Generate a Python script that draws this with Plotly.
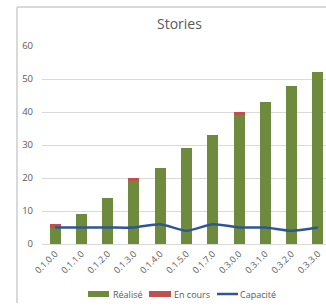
import plotly.graph_objects as go

categories = ["0.1.0.0", "0.1.1.0", "0.1.2.0", "0.1.3.0", "0.1.4.0", "0.1.5.0",
              "0.1.7.0", "0.3.0.0", "0.3.1.0", "0.3.2.0", "0.3.3.0"]
realise = [5, 9, 14, 19, 23, 29, 33, 39, 43, 48, 52]
en_cours = [1, 0, 0, 1, 0, 0, 0, 1, 0, 0, 0]
capacite = [5, 5, 5, 5, 6, 4, 6, 5, 5, 4, 5]
y_ticks = [0, 10, 20, 30, 40, 50, 60]

GREEN = "#6E8B3D"
RED = "#C0504D"
BLUE = "#2F5597"
TXT = "#595959"
GRID = "#D9D9D9"
FONT = "Open Sans"

W, H = 326, 307
ML, MR, MT, MB = 42, 0, 46, 63
PW = W - ML - MR
PH = H - MT - MB

def px_x(x):
    return (x - ML) / PW

def px_y(y):
    return (H - MB - y) / PH

fig = go.Figure()
fig.add_trace(go.Bar(x=categories, y=realise, name="Réalisé",
                     marker=dict(color=GREEN, line=dict(width=0)), width=0.42))
fig.add_trace(go.Bar(x=categories, y=en_cours, name="En cours",
                     marker=dict(color=RED, line=dict(width=0)), width=0.42))
fig.add_trace(go.Scatter(x=categories, y=capacite, name="Capacité", mode="lines",
                         line=dict(color=BLUE, width=2.5, shape="spline", smoothing=0.6)))

fig.update_layout(
    width=W, height=H,
    margin=dict(l=ML, r=MR, t=MT, b=MB, pad=0, autoexpand=False),
    barmode="stack",
    showlegend=False,
    paper_bgcolor="white",
    plot_bgcolor="white",
    font=dict(family=FONT, color=TXT, size=9),
    xaxis=dict(
        type="category",
        range=[-0.5, 10.31],
        tickangle=-45,
        tickfont=dict(size=9, color=TXT),
        showgrid=False,
        showline=True, linecolor=GRID, linewidth=1,
        ticks="", fixedrange=True, automargin=False,
    ),
    yaxis=dict(
        range=[0, 60],
        tickvals=y_ticks,
        tickfont=dict(size=9.5, color=TXT),
        showgrid=True, gridcolor=GRID, gridwidth=1,
        zeroline=False, showline=False, ticks="",
        ticklabelstandoff=8, automargin=False, fixedrange=True,
    ),
)

shapes = []
# chart frame (top and left borders)
shapes.append(dict(type="line", xref="paper", yref="paper",
                   x0=px_x(17), x1=px_x(326), y0=px_y(7), y1=px_y(7),
                   line=dict(color="#CCCCCC", width=1.5)))
shapes.append(dict(type="line", xref="paper", yref="paper",
                   x0=px_x(17), x1=px_x(17), y0=px_y(7), y1=px_y(303),
                   line=dict(color="#CCCCCC", width=1.5)))

# custom legend
legend_y = 294
shapes.append(dict(type="rect", xref="paper", yref="paper",
                   x0=px_x(88), x1=px_x(109), y0=px_y(legend_y + 3), y1=px_y(legend_y - 3),
                   fillcolor=GREEN, line=dict(width=0)))
shapes.append(dict(type="rect", xref="paper", yref="paper",
                   x0=px_x(149), x1=px_x(171), y0=px_y(legend_y + 3), y1=px_y(legend_y - 3),
                   fillcolor=RED, line=dict(width=0)))
shapes.append(dict(type="line", xref="paper", yref="paper",
                   x0=px_x(217), x1=px_x(238), y0=px_y(legend_y), y1=px_y(legend_y),
                   line=dict(color=BLUE, width=2.5)))
fig.update_layout(shapes=shapes)

annotations = [
    dict(text="Stories", xref="paper", yref="paper", x=px_x(179), y=px_y(23),
         showarrow=False, font=dict(size=14, color=TXT, family=FONT),
         xanchor="center", yanchor="middle"),
]
for label, xpos in [("Réalisé", 111), ("En cours", 172), ("Capacité", 238)]:
    annotations.append(dict(text=label, xref="paper", yref="paper",
                            x=px_x(xpos), y=px_y(legend_y), showarrow=False,
                            font=dict(size=9, color=TXT, family=FONT),
                            xanchor="left", yanchor="middle"))
fig.update_layout(annotations=annotations)

fig.write_html("out.html", config={"displayModeBar": False},
               post_script="document.body.style.margin='0';document.body.style.overflow='hidden';")
